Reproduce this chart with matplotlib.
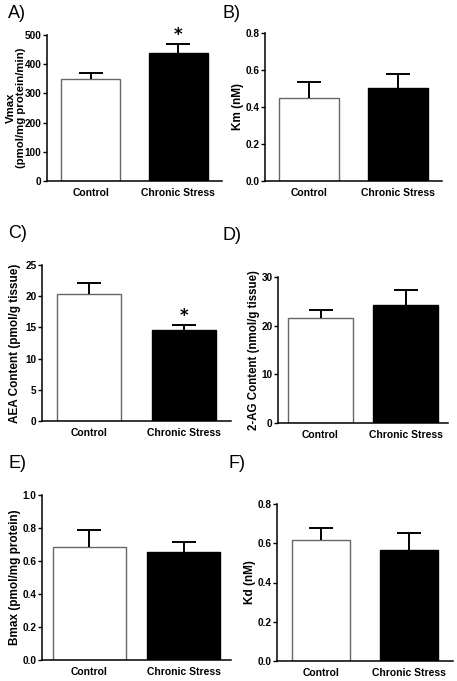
import matplotlib
matplotlib.use("Agg")
import matplotlib.pyplot as plt
from matplotlib import font_manager

names = {f.name for f in font_manager.fontManager.ttflist}
narrow = 'Liberation Sans Narrow' if 'Liberation Sans Narrow' in names else 'Liberation Sans'
plt.rcParams['font.family'] = [narrow, 'DejaVu Sans']

categories = ["Control", "Chronic Stress"]

vmax_mean = [350, 440]
vmax_err = [20, 28]
km_mean = [0.45, 0.505]
km_err = [0.083, 0.075]
aea_mean = [20.4, 14.6]
aea_err = [1.7, 0.85]
ag_mean = [21.6, 24.2]
ag_err = [1.6, 3.1]
bmax_mean = [0.685, 0.655]
bmax_err = [0.10, 0.06]
kd_mean = [0.615, 0.565]
kd_err = [0.065, 0.085]

panels = [
    dict(label="A)", mean=vmax_mean, err=vmax_err, ylim=(0, 500), yticks=[0, 100, 200, 300, 400, 500],
         fmt="{:.0f}", ylabel="Vmax\n(pmol/mg protein/min)", star=True,
         rect=(47, 222, 35, 181), width=0.67, lab=(8, 13), lx=26, lfs=8.2),
    dict(label="B)", mean=km_mean, err=km_err, ylim=(0, 0.8), yticks=[0, 0.2, 0.4, 0.6, 0.8],
         fmt="{:.1f}", ylabel="Km (nM)", star=False,
         rect=(265, 442, 33, 181), width=0.68, lab=(222, 13), lx=244, lfs=8.5),
    dict(label="C)", mean=aea_mean, err=aea_err, ylim=(0, 25), yticks=[0, 5, 10, 15, 20, 25],
         fmt="{:.0f}", ylabel="AEA Content (pmol/g tissue)", star=True,
         rect=(42, 231, 265, 421), width=0.68, lab=(8, 233), lx=21, lfs=8.5),
    dict(label="D)", mean=ag_mean, err=ag_err, ylim=(0, 30), yticks=[0, 10, 20, 30],
         fmt="{:.0f}", ylabel="2-AG Content (nmol/g tissue)", star=False,
         rect=(278, 448, 277, 423), width=0.77, lab=(222, 236), lx=260, lfs=8.3),
    dict(label="E)", mean=bmax_mean, err=bmax_err, ylim=(0, 1.0), yticks=[0, 0.2, 0.4, 0.6, 0.8, 1.0],
         fmt="{:.1f}", ylabel="Bmax (pmol/mg protein)", star=False,
         rect=(42, 231, 495, 660), width=0.77, lab=(8, 464), lx=21, lfs=8.5),
    dict(label="F)", mean=kd_mean, err=kd_err, ylim=(0, 0.8), yticks=[0, 0.2, 0.4, 0.6, 0.8],
         fmt="{:.1f}", ylabel="Kd (nM)", star=False,
         rect=(277, 453, 504, 661), width=0.67, lab=(229, 464), lx=256, lfs=8.5),
]

W, H = 457, 681
fig = plt.figure(figsize=(W / 100, H / 100), dpi=100)

for p in panels:
    l, r, t, b = p["rect"]
    ax = fig.add_axes([l / W, 1 - b / H, (r - l) / W, (b - t) / H])
    x = [0, 1]
    ax.bar(x, p["mean"], width=p["width"], color=["white", "black"],
           edgecolor=["#666666", "black"], linewidth=1.0, zorder=2)
    eb = ax.errorbar(x, p["mean"], yerr=[[0, 0], p["err"]], fmt="none", ecolor="black",
                     elinewidth=1.4, capsize=8.5, capthick=1.4, zorder=3)
    caps = eb[1]
    if len(caps) > 1:
        caps[0].set_visible(False)
    if p["star"]:
        ax.annotate("*", xy=(1, p["mean"][1] + p["err"][1]), xytext=(0, 0),
                    textcoords="offset points", ha="center", va="bottom",
                    fontsize=12, fontweight="bold", family="DejaVu Sans")
    ax.set_xlim(-0.5, 1.5)
    ax.set_ylim(*p["ylim"])
    ax.set_yticks(p["yticks"])
    ax.set_yticklabels([p["fmt"].format(v) for v in p["yticks"]], fontsize=7.2, fontweight="bold")
    ax.set_xticks(x)
    ax.set_xticklabels(categories, fontsize=7.5, fontweight="bold")
    ax.tick_params(axis="x", length=0, pad=5)
    ax.tick_params(axis="y", length=3, width=1.0, pad=1)
    ax.set_ylabel(p["ylabel"], fontsize=p["lfs"], fontweight="bold", linespacing=1.0)
    ax.yaxis.set_label_coords((p["lx"] - l) / (r - l), 0.5)
    for s in ["top", "right"]:
        ax.spines[s].set_visible(False)
    for s in ["left", "bottom"]:
        ax.spines[s].set_linewidth(1.1)
    fig.text(p["lab"][0] / W, 1 - p["lab"][1] / H, p["label"], fontsize=13,
             family="Liberation Sans", ha="left", va="center")

fig.savefig("out.png", dpi=100, facecolor="white")
